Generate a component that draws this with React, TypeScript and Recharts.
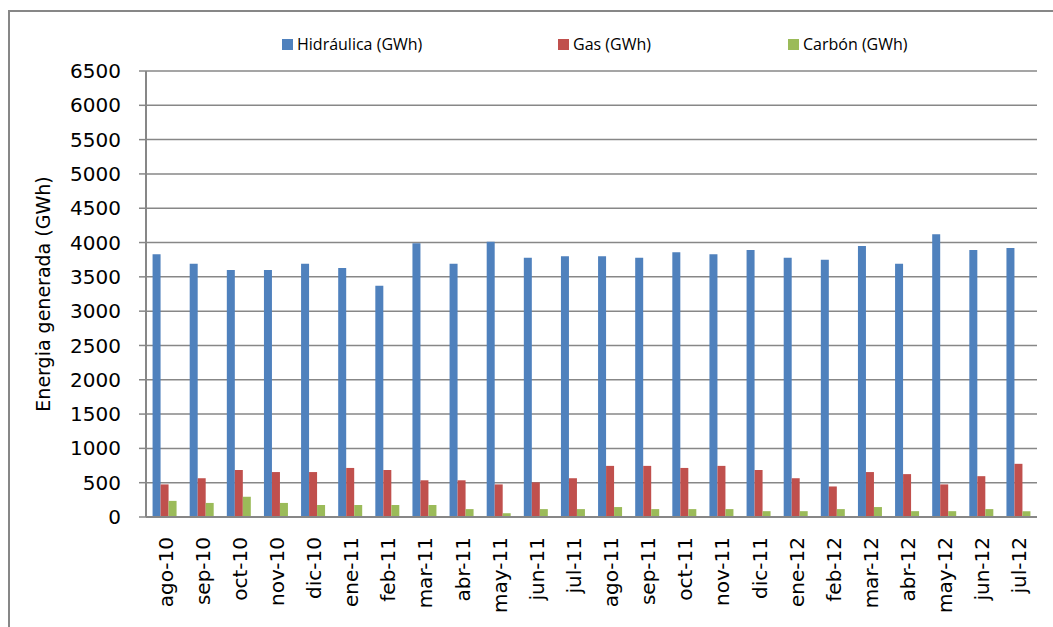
import { BarChart, Bar, XAxis, YAxis, CartesianGrid } from "recharts"

const months = [
  "ago-10", "sep-10", "oct-10", "nov-10", "dic-10", "ene-11", "feb-11", "mar-11",
  "abr-11", "may-11", "jun-11", "jul-11", "ago-11", "sep-11", "oct-11", "nov-11",
  "dic-11", "ene-12", "feb-12", "mar-12", "abr-12", "may-12", "jun-12", "jul-12",
]
const hidraulica = [
  3830, 3690, 3600, 3600, 3690, 3630, 3370, 3990, 3690, 4010, 3780, 3800,
  3800, 3780, 3860, 3830, 3890, 3780, 3750, 3950, 3690, 4120, 3890, 3920,
]
const gas = [
  475, 565, 685, 655, 655, 715, 685, 535, 535, 475, 505, 565,
  745, 745, 715, 745, 685, 565, 445, 655, 625, 475, 595, 775,
]
const carbon = [
  235, 205, 295, 205, 175, 175, 175, 175, 115, 55, 115, 115,
  145, 115, 115, 115, 85, 85, 115, 145, 85, 85, 115, 85,
]
const yTicks = [0, 500, 1000, 1500, 2000, 2500, 3000, 3500, 4000, 4500, 5000, 5500, 6000, 6500]

const data = months.map((m, i) => ({
  mes: m,
  hidraulica: hidraulica[i],
  gas: gas[i],
  carbon: carbon[i],
}))

const series = [
  { key: "hidraulica", name: "Hidráulica (GWh)", color: "#4F81BD", left: 282 },
  { key: "gas", name: "Gas (GWh)", color: "#C0504D", left: 558 },
  { key: "carbon", name: "Carbón (GWh)", color: "#9BBB59", left: 788 },
]

const grey = "#878787"
const tickFont = { fontFamily: "DejaVu Sans", fontSize: 20, fill: "#000" }

function MonthTick({ x, y, payload }: any) {
  return (
    <text
      transform={`translate(${x + 8},${y + 20}) rotate(-90)`}
      textAnchor="end"
      {...tickFont}
    >
      {payload.value}
    </text>
  )
}

export default function App() {
  return (
    <div style={{ position: "relative", width: 1053, height: 627, overflow: "hidden", background: "#fff" }}>
      <style>{"body{margin:0}"}</style>
      <div
        style={{
          position: "absolute",
          left: 8,
          top: 10,
          width: 1045,
          height: 617,
          borderTop: `2px solid ${grey}`,
          borderLeft: `2px solid ${grey}`,
          boxSizing: "border-box",
        }}
      />
      {series.map((s) => (
        <div
          key={s.key}
          style={{
            position: "absolute",
            left: s.left,
            top: 35,
            display: "flex",
            alignItems: "center",
            fontFamily: "Open Sans",
            fontSize: 16,
            lineHeight: "18px",
            color: "#000",
          }}
        >
          <span style={{ display: "inline-block", width: 11, height: 11, background: s.color, marginRight: 4 }} />
          {s.name}
        </div>
      ))}
      <div
        style={{
          position: "absolute",
          left: 43,
          top: 294,
          transform: "translate(-50%,-50%) rotate(-90deg)",
          whiteSpace: "nowrap",
          fontFamily: "DejaVu Sans",
          fontSize: 19,
          color: "#000",
        }}
      >
        Energia generada (GWh)
      </div>
      <div style={{ position: "absolute", left: 0, top: 0 }}>
        <BarChart
          width={1053}
          height={627}
          data={data}
          margin={{ top: 71, right: 16, bottom: 10, left: 0 }}
          barCategoryGap="17.7%"
          barGap={0}
        >
          <CartesianGrid vertical={false} stroke={grey} strokeWidth={1.5} />
          <XAxis
            dataKey="mes"
            interval={0}
            height={100}
            tickLine={false}
            tickSize={0}
            tickMargin={0}
            axisLine={{ stroke: grey, strokeWidth: 2 }}
            tick={<MonthTick />}
          />
          <YAxis
            width={146}
            domain={[0, 6500]}
            ticks={yTicks}
            interval={0}
            tickSize={7}
            tickMargin={18}
            tickLine={{ stroke: grey, strokeWidth: 1.5 }}
            axisLine={{ stroke: grey, strokeWidth: 2 }}
            tick={tickFont}
          />
          {series.map((s) => (
            <Bar key={s.key} dataKey={s.key} name={s.name} fill={s.color} isAnimationActive={false} />
          ))}
        </BarChart>
      </div>
    </div>
  )
}
